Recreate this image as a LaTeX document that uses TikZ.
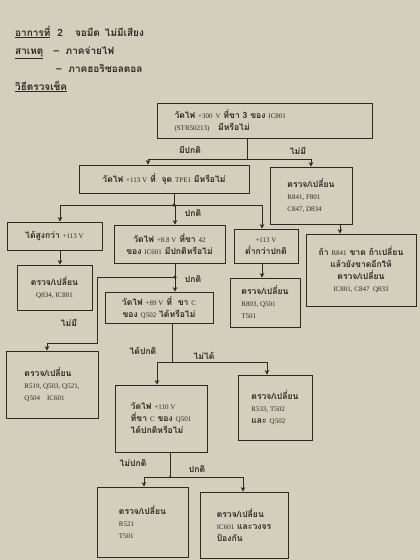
\documentclass[tikz,border=0pt]{standalone}
\usepackage{fontspec}
\setmainfont[Script=Thai]{Loma}
\newfontfamily\codefont{Liberation Serif}
\usetikzlibrary{arrows.meta}
\definecolor{paper}{RGB}{210,207,189}
\definecolor{ink}{RGB}{45,42,38}
\newcommand{\lt}[1]{{\codefont\fontsize{7}{7.5}\mdseries\selectfont #1}}
\begin{document}
\begin{tikzpicture}[x=1pt,y=-1pt,
  box/.style={draw=ink, line width=0.9pt, inner sep=2pt, align=left, font=\fontsize{8.6}{12}\selectfont\bfseries, text=ink},
  arr/.style={draw=ink, line width=0.8pt, -{Stealth[length=4.5pt,width=4.5pt]}},
  ln/.style={draw=ink, line width=0.8pt},
  lab/.style={font=\fontsize{8.6}{10}\selectfont\bfseries, text=ink},
  hdr/.style={font=\fontsize{10}{12}\selectfont\bfseries, text=ink, anchor=base west, inner sep=0pt},
  jdot/.style={circle, fill=ink, inner sep=0pt, minimum size=3.5pt}]
\fill[paper] (0,0) rectangle (420,560);
\useasboundingbox (0,0) rectangle (420,560);
% header
\node[hdr] (h1) at (15,36) {\underline{อาการที่}\hspace{7pt}2\hspace{12pt}จอมืด\hspace{5pt}ไม่มีเสียง};
\node[hdr] (h2) at (15,54) {\underline{สาเหตุ}\ \ \ –\ \ ภาคจ่ายไฟ};
\node[hdr] (h3) at (56,72) {–\ \ ภาคฮอริซอลตอล};
\node[hdr] (h4) at (15,90) {\underline{วิธีตรวจเช็ค}};
% boxes
\node[box, minimum width=215pt, minimum height=35pt, text width=180pt, inner xsep=17.5pt] (b1) at (264.5,120.5) {วัดไฟ \lt{+300 V} ที่ขา 3 ของ \lt{IC801}\\\lt{(STR50213)}\quad มีหรือไม่};
\node[box, minimum width=170pt, minimum height=28pt] (b2) at (164,179) {วัดไฟ \lt{+113 V} ที่\ \ จุด \lt{TPE1} มีหรือไม่};
\node[box, minimum width=82pt, minimum height=57pt] (bA) at (311,195.5) {ตรวจ/เปลี่ยน\\\lt{R841, F801}\\\lt{C847, D834}};
\node[box, minimum width=110pt, minimum height=72pt, align=center] (bB) at (361,270) {ถ้า \lt{R841} ขาด ถ้าเปลี่ยน\\แล้วยังขาดอีกให้\\ตรวจ/เปลี่ยน\\\lt{IC801, C847\ \ Q833}};
\node[box, minimum width=95pt, minimum height=28pt] (bHi) at (54.5,236) {ได้สูงกว่า \lt{+113 V}};
\node[box, minimum width=111pt, minimum height=38pt, align=center] (b88) at (169.5,244) {วัดไฟ \lt{+8.8 V} ที่ขา \lt{42}\\ของ \lt{IC601} มีปกติหรือไม่};
\node[box, minimum width=64pt, minimum height=34pt, align=center] (b113) at (266,246) {\lt{+113 V}\\ต่ำกว่าปกติ};
\node[box, minimum width=75pt, minimum height=45pt, align=center] (bQ834) at (54.5,287.5) {ตรวจ/เปลี่ยน\\\lt{Q834, IC801}};
\node[box, minimum width=108pt, minimum height=31pt, align=center] (b89) at (159,307.5) {วัดไฟ \lt{+89 V} ที่\ \ ขา \lt{C}\\ของ \lt{Q502} ได้หรือไม่};
\node[box, minimum width=70pt, minimum height=49pt] (bR803) at (265,302.5) {ตรวจ/เปลี่ยน\\\lt{R803, Q501}\\\lt{T501}};
\node[box, minimum width=92pt, minimum height=67pt] (bR519) at (52,384.5) {ตรวจ/เปลี่ยน\\\lt{R519, Q503, Q521,}\\\lt{Q504\quad IC601}};
\node[box, minimum width=92pt, minimum height=67pt] (b110) at (161,418.5) {วัดไฟ \lt{+110 V}\\ที่ขา \lt{C} ของ \lt{Q501}\\ได้ปกติหรือไม่};
\node[box, minimum width=74pt, minimum height=65pt] (bR533) at (275,407.5) {ตรวจ/เปลี่ยน\\\lt{R533, T502}\\และ \lt{Q502}};
\node[box, minimum width=91pt, minimum height=70pt] (bR521) at (142.5,522) {ตรวจ/เปลี่ยน\\\lt{R521}\\\lt{T501}};
\node[box, minimum width=88pt, minimum height=66pt] (bIC) at (244,525) {ตรวจ/เปลี่ยน\\\lt{IC601} และวงจร\\ป้องกัน};
% column helpers
\coordinate (c148) at (148,0);
\coordinate (c340) at (340,0);
\coordinate (c60) at (60,0);
\coordinate (c175) at (175,0);
\coordinate (c262) at (262,0);
\coordinate (c47) at (47,0);
\coordinate (c172) at (172,0);
\coordinate (c157) at (157,0);
\coordinate (c267) at (267,0);
\coordinate (c170) at (170,0);
\coordinate (c144) at (144,0);
\coordinate (c243) at (243,0);
% junctions
\coordinate (j1) at (247,159);
\coordinate (j2) at (174,205);
\coordinate (j2l) at (60,205);
\coordinate (j2r) at (262,205);
\coordinate (j3) at (175,277);
\coordinate (j3a) at (97,277);
\coordinate (j3b) at (97,343);
\coordinate (j3c) at (47,343);
\coordinate (j4) at (172,362);
\coordinate (j4l) at (157,362);
\coordinate (j4r) at (267,362);
\coordinate (j5) at (170,477);
\coordinate (j5l) at (144,477);
\coordinate (j5r) at (243,477);
% connectors
\draw[ln] (b1.south -| j1) -- (j1);
\draw[arr] (j1) -| (b2.north -| c148);
\draw[arr] (j1) -| (bA.north);
\draw[arr] (bA.south -| c340) -- (bB.north -| c340);
\draw[ln] (b2.south -| j2) -- (j2);
\draw[arr] (j2) -- (j2l) -- (bHi.north -| c60);
\draw[arr] (j2) -| (b88.north -| c175);
\draw[arr] (j2) -- (j2r) -- (b113.north -| c262);
\node[jdot] (d2) at (j2) {};
\draw[arr] (bHi.south -| c60) -- (bQ834.north -| c60);
\draw[arr] (b113.south -| c262) -- (bR803.north -| c262);
\draw[ln] (b88.south -| j3) -- (j3);
\draw[arr] (j3) -- (b89.north -| c175);
\draw[arr] (j3) -- (j3a) -- (j3b) -- (j3c) -- (bR519.north -| c47);
\node[jdot] (d3) at (j3) {};
\draw[ln] (b89.south -| c172) -- (j4);
\draw[arr] (j4) -- (j4l) -- (b110.north -| c157);
\draw[arr] (j4) -- (j4r) -- (bR533.north -| c267);
\draw[ln] (b110.south -| c170) -- (j5);
\draw[arr] (j5) -- (j5l) -- (bR521.north -| c144);
\draw[arr] (j5) -- (j5r) -- (bIC.north -| c243);
\node[jdot, minimum size=2.5pt] (d5) at (j5) {};
% labels
\node[lab] (l1) at (190,150) {มีปกติ};
\node[lab] (l2) at (298,151) {ไม่มี};
\node[lab] (l3) at (193,213) {ปกติ};
\node[lab] (l4) at (193,279) {ปกติ};
\node[lab] (l5) at (69,323) {ไม่มี};
\node[lab] (l6) at (143,351) {ได้ปกติ};
\node[lab] (l7) at (204,356) {ไม่ได้};
\node[lab] (l8) at (133,463) {ไม่ปกติ};
\node[lab] (l9) at (197,469) {ปกติ};
\end{tikzpicture}
\end{document}
